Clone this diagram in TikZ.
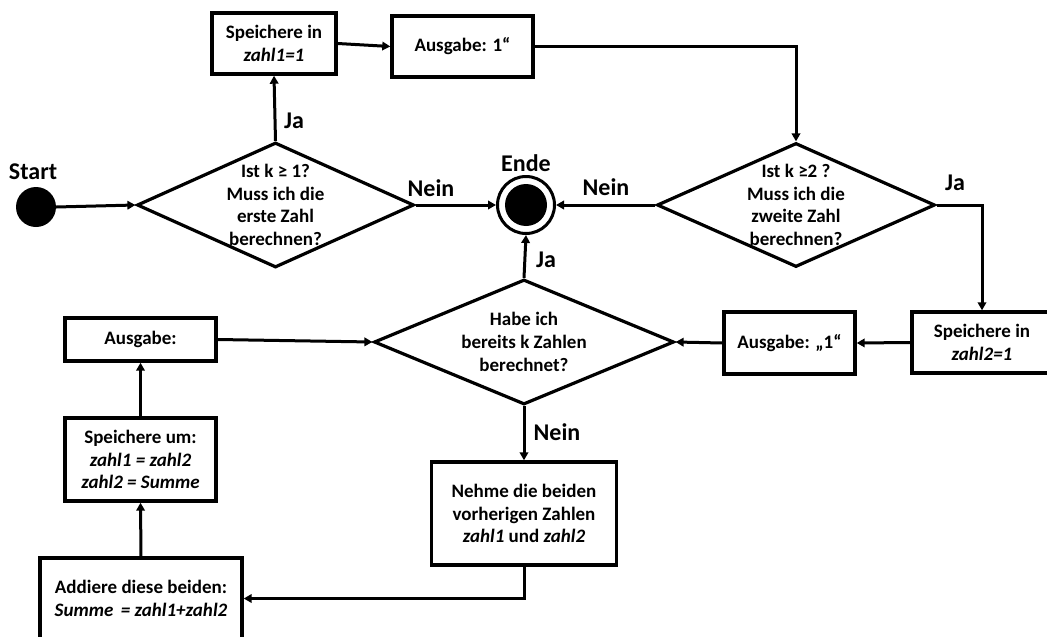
\documentclass[tikz,border=0pt]{standalone}
\usepackage{fontspec}
\setmainfont{Carlito}
\usetikzlibrary{arrows.meta,shapes.geometric}
\newcommand\txtfont{\fontsize{19}{22.7}\selectfont\bfseries}
\newcommand\lblfont{\fontsize{24}{28}\selectfont\bfseries}
\tikzset{
  box/.style={draw, line width=3.4pt, rectangle, align=center, inner sep=0pt, font=\txtfont},
  dia/.style={draw, line width=3.2pt, diamond, inner sep=0pt},
  conn/.style={line width=3pt, -{Triangle[length=8pt,width=8.5pt]}},
  lbl/.style={font=\lblfont, inner sep=0pt},
}
\begin{document}
\begin{tikzpicture}[x=1pt,y=-1pt]
\path[use as bounding box, clip] (0,0) rectangle (1047,637);
\fill[white] (0,0) rectangle (1047,637);
% start / end
\node[circle, fill=black, minimum size=40pt, inner sep=0pt] (start) at (36,207) {};
\node[lbl] (lstart) at (33,172) {Start};
\node[circle, draw, line width=3pt, minimum size=57pt, inner sep=0pt] (ende) at (526,205) {};
\fill[black] (ende.center) circle (21pt);
\node[lbl] (lende) at (526,163) {Ende};
% diamonds
\node[dia, minimum width=277pt, minimum height=125pt,
  label={[font=\txtfont, align=center]center:Ist k ≥ 1?\\Muss ich die\\erste Zahl\\berechnen?}] (d1) at (275.5,205) {};
\node[dia, minimum width=278pt, minimum height=124pt,
  label={[font=\txtfont, align=center]center:Ist k ≥2 ?\\Muss ich die\\zweite Zahl\\berechnen?}] (d2) at (796,205) {};
\node[dia, minimum width=300pt, minimum height=125pt,
  label={[font=\txtfont, align=center]center:Habe ich\\bereits k Zahlen\\berechnet?}] (d3) at (524,342) {};
% boxes
\node[box, minimum width=124pt, minimum height=61pt] (s1) at (274,43.5) {Speichere in\\\itshape zahl1=1};
\node[box, minimum width=141pt, minimum height=61pt] (a1) at (462.5,46.5) {Ausgabe: 1“};
\node[box, minimum width=140pt, minimum height=61pt] (s2) at (982,342.5) {Speichere in\\\itshape zahl2=1};
\node[box, minimum width=131pt, minimum height=62pt] (a2) at (789.5,343) {Ausgabe: „1“};
\node[box, minimum width=185pt, minimum height=103pt] (n) at (524,513.5) {Nehme die beiden\\vorherigen Zahlen\\\textit{zahl1} und \textit{zahl2}};
\node[box, minimum width=202pt, minimum height=81pt] (add) at (141,598.5) {Addiere diese beiden:\\\itshape Summe\, = zahl1+zahl2};
\node[box, minimum width=151pt, minimum height=83pt] (su) at (140.5,459.5) {Speichere um:\\\itshape zahl1 = zahl2\\\itshape zahl2 = Summe};
\node[box, minimum width=151pt, minimum height=43pt] (ao) at (140.5,339.5) {Ausgabe:};
% connectors
\draw[conn] (start.east) -- (d1.west);
\draw[conn] (d1.north) -- (s1.south);
\draw[conn] (s1.east) -- (a1.west);
\draw[conn] (a1.east) -| (d2.north);
\draw[conn] (d1.east) -- (ende.west);
\draw[conn] (d2.west) -- (ende.east);
\draw[conn] (d2.east) -| (s2.north);
\draw[conn] (s2.west) -- (a2.east);
\draw[conn] (a2.west) -- (d3.east);
\draw[conn] (d3.north) -- (ende.south);
\draw[conn] (d3.south) -- (n.north);
\draw[conn] (n.south) |- (add.east);
\draw[conn] (add.north) -- (su.south);
\draw[conn] (su.north) -- (ao.south);
\draw[conn] (ao.east) -- (d3.west);
% labels
\node[lbl] (lja1) at (294,121) {Ja};
\node[lbl] (lnein1) at (431,188) {Nein};
\node[lbl] (lnein2) at (606,187) {Nein};
\node[lbl] (lja2) at (955,183) {Ja};
\node[lbl] (lja3) at (546,260) {Ja};
\node[lbl] (lnein3) at (557,432) {Nein};
\end{tikzpicture}
\end{document}
